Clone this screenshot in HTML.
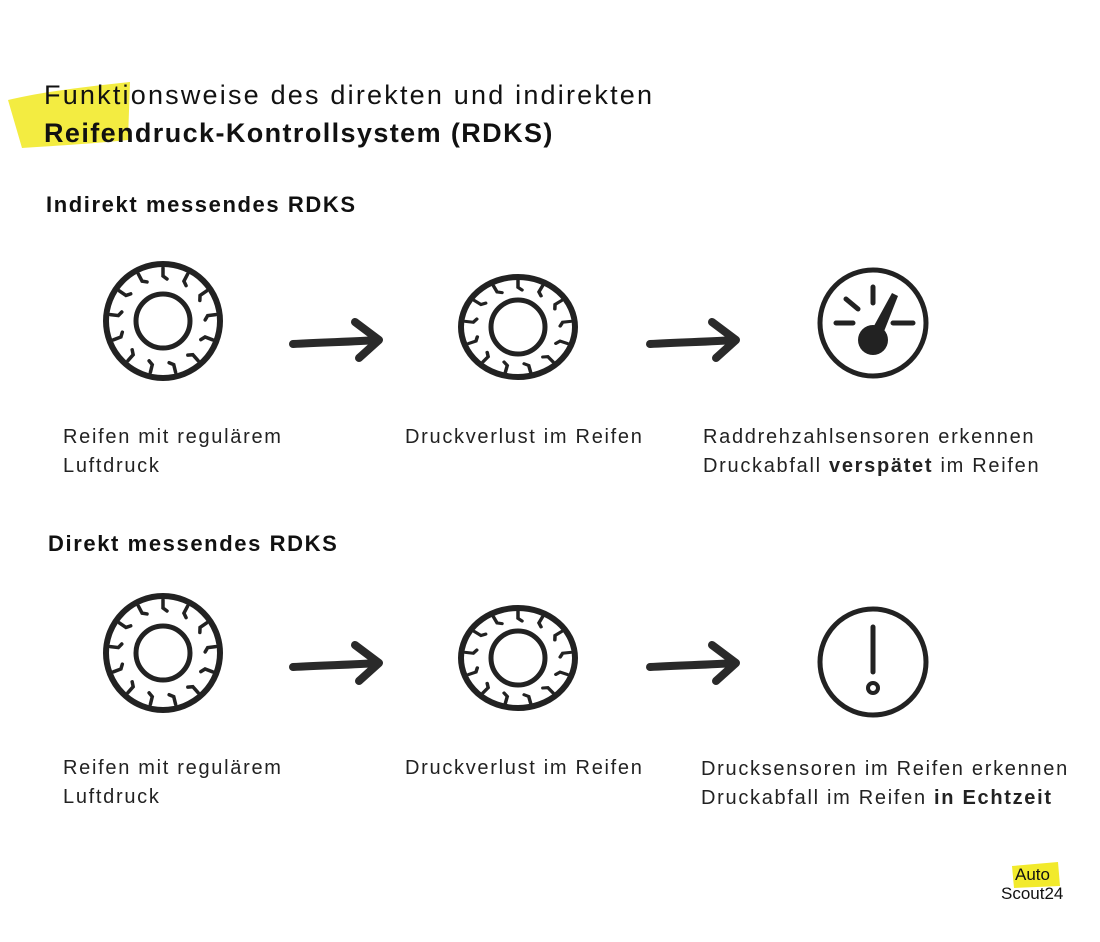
<!DOCTYPE html>
<html><head><meta charset="utf-8"><style>
body{margin:0;background:#fff;width:1100px;height:942px;position:relative;overflow:hidden;font-family:"Liberation Sans",sans-serif;color:#111}
.t{position:absolute;white-space:nowrap}
.l{font-size:20px;line-height:29px;color:#222;letter-spacing:1.7px}
</style></head><body>
<svg width="1100" height="942" style="position:absolute;left:0;top:0">
<defs>
<g id="tread"><path d="M0,-53 L0,-45 L4,-42" fill="none" stroke="#222" stroke-width="3.5" stroke-linecap="round"/></g>
<g id="ticks">
<use href="#tread" transform="rotate(0)"/><use href="#tread" transform="rotate(27.7)"/><use href="#tread" transform="rotate(55.4)"/><use href="#tread" transform="rotate(83.1)"/><use href="#tread" transform="rotate(110.8)"/><use href="#tread" transform="rotate(138.5)"/><use href="#tread" transform="rotate(166.2)"/><use href="#tread" transform="rotate(193.8)"/><use href="#tread" transform="rotate(221.5)"/><use href="#tread" transform="rotate(249.2)"/><use href="#tread" transform="rotate(276.9)"/><use href="#tread" transform="rotate(304.6)"/><use href="#tread" transform="rotate(332.3)"/>
</g>
<g id="tire1"><circle r="57" fill="none" stroke="#222" stroke-width="6"/><use href="#ticks"/><circle r="27" fill="none" stroke="#222" stroke-width="5"/></g>
<g id="tire2"><ellipse rx="57" ry="50" fill="none" stroke="#222" stroke-width="6"/><g transform="scale(1,0.88)"><use href="#ticks"/></g><circle r="27" fill="none" stroke="#222" stroke-width="5"/></g>
<g id="arrow"><path d="M0,2 C30,0 60,0 84,-2 M62,-20 L86,-2 L66,16" fill="none" stroke="#2a2a2a" stroke-width="8" stroke-linecap="round" stroke-linejoin="round"/></g>
</defs>
<path d="M8,100 C40,92 90,86 130,82 L128,140 C90,144 50,146 22,148 Z" fill="#f2ea2c" opacity="0.9"/>
<path d="M1012,866 L1058,862 L1060,886 L1014,888 Z" fill="#f2ea2c"/>
<use href="#tire1" x="163" y="321"/>
<use href="#tire2" x="518" y="327"/>
<use href="#arrow" x="293" y="342"/>
<use href="#arrow" x="650" y="342"/>
<g transform="translate(873,323)" stroke="#222" fill="none">
<circle r="53" stroke-width="5"/>
<path d="M-37,0 L-20,0 M20,0 L40,0 M-27,-24 L-15,-14 M0,-36 L0,-20" stroke-width="5" stroke-linecap="round"/>
<path d="M-4,12 L19,-30 L25,-27 L8,16 Z" fill="#222" stroke="none"/>
<circle cx="0" cy="17" r="15" fill="#222" stroke="none"/>
</g>
<use href="#tire1" x="163" y="653"/>
<use href="#tire2" x="518" y="658"/>
<use href="#arrow" x="293" y="665"/>
<use href="#arrow" x="650" y="665"/>
<g transform="translate(873,662)" stroke="#222" fill="none">
<circle r="53" stroke-width="5"/>
<path d="M0,-35 L0,10" stroke-width="5" stroke-linecap="round"/>
<circle cx="0" cy="26" r="5" stroke-width="4"/>
</g>
</svg>
<div class="t" style="left:44px;top:80px;font-size:27px;letter-spacing:2.2px">Funktionsweise des direkten und indirekten</div>
<div class="t" style="left:44px;top:118px;font-size:27px;font-weight:bold;letter-spacing:1.4px">Reifendruck-Kontrollsystem (RDKS)</div>
<div class="t" style="left:46px;top:192px;font-size:22px;font-weight:bold;letter-spacing:1.6px">Indirekt messendes RDKS</div>
<div class="t" style="left:48px;top:531px;font-size:22px;font-weight:bold;letter-spacing:1.6px">Direkt messendes RDKS</div>
<div class="t l" style="left:63px;top:423px">Reifen mit regulärem<br>Luftdruck</div>
<div class="t l" style="left:405px;top:423px">Druckverlust im Reifen</div>
<div class="t l" style="left:703px;top:423px">Raddrehzahlsensoren erkennen<br>Druckabfall <b>verspätet</b> im Reifen</div>
<div class="t l" style="left:63px;top:754px">Reifen mit regulärem<br>Luftdruck</div>
<div class="t l" style="left:405px;top:754px">Druckverlust im Reifen</div>
<div class="t l" style="left:701px;top:755px">Drucksensoren im Reifen erkennen<br>Druckabfall im Reifen <b>in Echtzeit</b></div>
<div class="t" style="left:1015px;top:865px;font-size:17px">Auto</div>
<div class="t" style="left:1001px;top:884px;font-size:17px">Scout24</div>
</body></html>
